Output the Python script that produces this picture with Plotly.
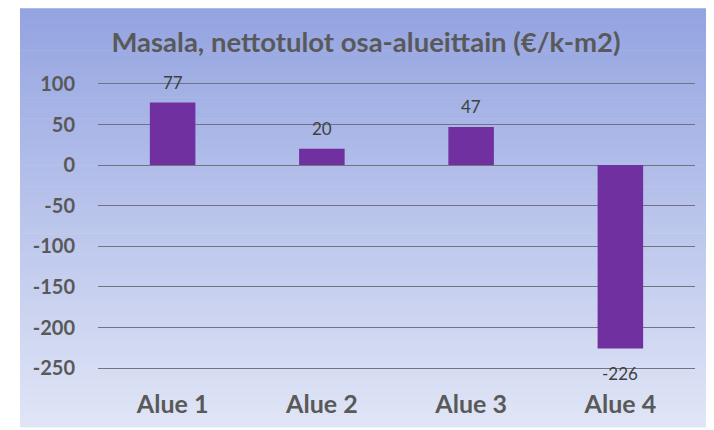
import plotly.graph_objects as go

categories = ["Alue 1", "Alue 2", "Alue 3", "Alue 4"]
values = [77, 20, 47, -226]
label_texts = ["77", "20", "47", "-226"]
tick_vals = [100, 50, 0, -50, -100, -150, -200, -250]
title_text = "Masala, nettotulot osa-alueittain (€/k-m2)"

# page body has an 8px margin, so the figure is a bit smaller than the window
W, H = 706, 422
ML, MR, MT, MB = 90, 19, 66.2, 49.2
pw, ph = W - ML - MR, H - MT - MB

def px_to_paper_x(px):
    return (px - ML) / pw

def px_to_paper_y(py):
    return 1 - (py - MT) / ph

fig = go.Figure()
fig.add_trace(go.Bar(
    x=categories, y=values,
    marker=dict(color="#7030a0", line=dict(width=0)),
    width=0.305,
    hoverinfo="skip",
))

# gradient background panel via strips
top_c = (148, 164, 225)
bot_c = (224, 229, 246)
x0p, x1p = px_to_paper_x(12), px_to_paper_x(702)
y_top, y_bot = 0, H
n = 80
shapes = []
for i in range(n):
    t = i / (n - 1)
    c = tuple(int(round(top_c[k] + (bot_c[k] - top_c[k]) * t)) for k in range(3))
    ya = y_top + (y_bot - y_top) * i / n
    yb = y_top + (y_bot - y_top) * (i + 1) / n + 0.6
    shapes.append(dict(
        type="rect", xref="paper", yref="paper", layer="below",
        x0=x0p, x1=x1p, y0=px_to_paper_y(yb), y1=px_to_paper_y(ya),
        fillcolor="rgb(%d,%d,%d)" % c, line=dict(width=0),
    ))

annotations = []
for cat, v, txt in zip(categories, values, label_texts):
    annotations.append(dict(
        x=cat, y=v, xref="x", yref="y", text=txt, showarrow=False,
        yshift=20 if v >= 0 else -25,
        font=dict(family="Lato, sans-serif", size=17, color="#404040"),
    ))

fig.update_layout(
    width=W, height=H,
    margin=dict(l=ML, r=MR, t=MT, b=MB),
    paper_bgcolor="white",
    plot_bgcolor="rgba(0,0,0,0)",
    showlegend=False,
    bargap=0.69,
    shapes=shapes,
    annotations=annotations,
    title=dict(
        text=title_text, x=358 / W, xanchor="center", xref="container",
        y=1 - 34 / H, yanchor="middle", yref="container",
        font=dict(family="Lato, sans-serif", size=27.5, color="#595959", weight="bold"),
    ),
    xaxis=dict(
        showgrid=False, zeroline=False, showline=False, ticks="",
        tickfont=dict(family="Lato, sans-serif", size=25, color="#595959", weight="bold"),
        ticklabelstandoff=9,
    ),
    yaxis=dict(
        range=[-262.2, 112.2],
        tickvals=tick_vals,
        ticktext=[str(v) for v in tick_vals],
        showgrid=True, gridcolor="#6f7480", gridwidth=1,
        zeroline=False, showline=False, ticks="",
        tickfont=dict(family="Lato, sans-serif", size=20, color="#595959", weight="bold"),
        ticklabelstandoff=22,
    ),
)

fig.write_html("out.html")
